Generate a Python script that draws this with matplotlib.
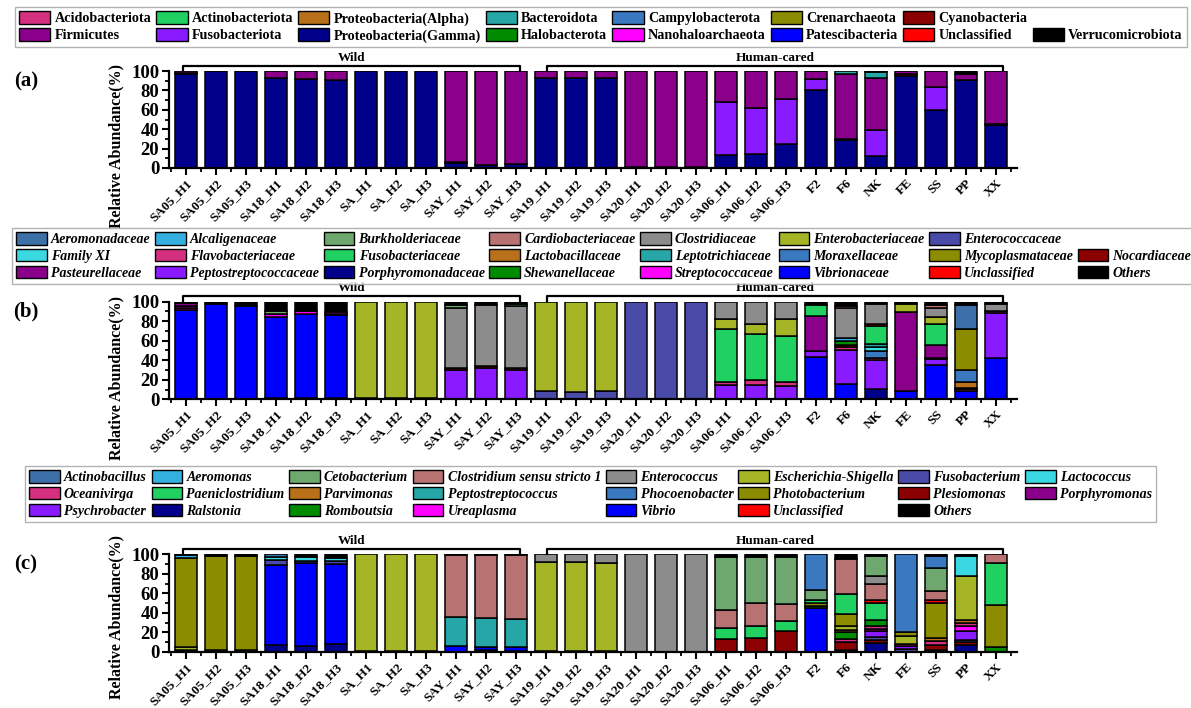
import matplotlib
matplotlib.use("Agg")
import matplotlib.pyplot as plt
from matplotlib.patches import Patch
import numpy as np

plt.rcParams['font.family'] = ['Liberation Serif', 'DejaVu Serif']
plt.rcParams['font.weight'] = 'bold'

samples = ["SA05_H1", "SA05_H2", "SA05_H3", "SA18_H1", "SA18_H2", "SA18_H3",
           "SA_H1", "SA_H2", "SA_H3", "SAY_H1", "SAY_H2", "SAY_H3",
           "SA19_H1", "SA19_H2", "SA19_H3", "SA20_H1", "SA20_H2", "SA20_H3",
           "SA06_H1", "SA06_H2", "SA06_H3", "F2", "F6", "NK", "FE", "SS", "PP", "XX"]

# ---------------- shared palette (legend order) ----------------
palette = ["#3d6fa8", "#33b0e0", "#6ea86e", "#b87272", "#8c8c8c", "#a6b526",
           "#4a4aa8", "#3ad8e0", "#d4307f", "#20d060", "#b8701a", "#26a6a6",
           "#3a78c0", "#8c8c00", "#8b0000", "#8b008b", "#8a1aff", "#00008b",
           "#008b00", "#ff00ff", "#0000ff", "#ff0000", "#000000"]

# ---------------- panel (a) phylum ----------------
a_names = ["Acidobacteriota", "Actinobacteriota", "Proteobacteria(Alpha)", "Bacteroidota",
           "Campylobacterota", "Crenarchaeota", "Cyanobacteria", "Firmicutes",
           "Fusobacteriota", "Proteobacteria(Gamma)", "Halobacterota", "Nanohaloarchaeota",
           "Patescibacteria", "Unclassified", "Verrucomicrobiota"]
a_acidobacteriota = [0,0,0,0,0,0,0,0,0,0,0,0, 0,0,0,0,0,0,0,0,0,0,0,0,0,0,0,0.5]
a_actinobacteriota = [0,0,0,0,0,0,0,0,0,0,0,0, 0,0,0,0,0,0,0,0,0,0,0,1.5,0,0,0,0]
a_bacteroidota = [0,0,0,0,0,0,0,0,0,0,0,0, 0,0,0,0,0,0,0,0,0,0.5,3,5.5,0,0,0,0]
a_cyanobacteria = [1,0,0,0,0,0,0,0,0,1,0.5,0.5, 0,0,0,0,0,0,0,0,0,0,1.5,0,1.5,0,0.5,0]
a_firmicutes = [2,0.5,0.5,7.5,8,9.5,0,0,0,94,96.5,95.5, 7,7,7.5,99,99,99,32,38.5,29,8,67,54,3.5,16,6,55]
a_fusobacteriota = [0,0,0,0,0,0,0,0,0,0,0,0, 0,0,0,0,0,0,55,47.5,46,11.5,0,27,0,24,0,0]
a_gamma = [97,99.5,99.5,92.5,92,90.5,100,100,100,5,3,4, 93,93,92.5,1,1,1,13,14,25,80,28.5,12,95,60,90.5,44.5]
a_verrucomicrobiota = [0,0,0,0,0,0,0,0,0,0,0,0, 0,0,0,0,0,0,0,0,0,0,0,0,0,0,3,0]

# ---------------- panel (b) family ----------------
b_names = ["Aeromonadaceae", "Alcaligenaceae", "Burkholderiaceae", "Cardiobacteriaceae",
           "Clostridiaceae", "Enterobacteriaceae", "Enterococcaceae", "Family XI",
           "Flavobacteriaceae", "Fusobacteriaceae", "Lactobacillaceae", "Leptotrichiaceae",
           "Moraxellaceae", "Mycoplasmataceae", "Nocardiaceae", "Pasteurellaceae",
           "Peptostreptococcaceae", "Porphyromonadaceae", "Shewanellaceae",
           "Streptococcaceae", "Vibrionaceae", "Unclassified", "Others"]
b_aeromonadaceae = [0,0,0,0,0,0,0,0,0,0,0,0, 0,0,0,0,0,0,0,0,0,0,0,0,0,0,25,0]
b_alcaligenaceae = [0,0,0,0,0,0,0,0,0,0,0,0, 0,0,0,0,0,0,0,0,0,0,3,0,0,0,0,0]
b_burkholderiaceae = [0,0,0,3,0,0,0,0,0,3,0,2, 0,0,0,0,0,0,0,0,0,0,0,0,0,0,0,0]
b_cardiobacteriaceae = [0,0,0,0,0,0,0,0,0,0,0,0, 0,0,0,0,0,0,0,0,0,0,2.5,0,0,3,0,0]
b_clostridiaceae = [0,0,0,0,0,0,0,0,0,61.5,62.5,63, 0,0,0,0,0,0,18,23,17.5,0,31,20.5,0,10,0,7]
b_enterobacteriaceae = [0,0,0,0,0,0,99,99,99,0,0,0, 92,92.5,91.5,0,0,0,9.5,10,18,0,0,0,9,6.5,0,0]
b_enterococcaceae = [0,0,0,0,0,0,0,0,0,0,0,0, 8,7.5,8.5,100,100,100,0,0,0,0,0,0,0,0,0,0]
b_family_xi = [0,0,0,0,0,0,0,0,0,0,0,0, 0,0,0,0,0,0,0,0,0,0,0,5,0,0,0,0]
b_flavobacteriaceae = [2,0,0,0,0,0,0,0,0,0,0,0, 0,0,0,0,0,0,3,5,4,0,3,2,0,0,1.5,0]
b_fusobacteriaceae = [0,0,0,0,0,0,0,0,0,0,0,0, 0,0,0,0,0,0,55,47,47,12,0,18.5,0,22,0,0]
b_lactobacillaceae = [0,0,0,0,0,0,0,0,0,0,0,0, 0,0,0,0,0,0,0,0,0,0,0,0,0,0,6,0]
b_leptotrichiaceae = [0,0,0,0,0,0,0,0,0,0,0,0, 0,0,0,0,0,0,0,0,0,0,0,3,0,0,0,0]
b_moraxellaceae = [0,0,0,0,0,0,0,0,0,0,0,0, 0,0,0,0,0,0,0,0,0,0,0,7,0,0,12,0]
b_mycoplasmataceae = [0,0,0,0,0,0,0,0,0,0,0,0, 0,0,0,0,0,0,0,0,0,0,0,0,0,0,42,0]
b_nocardiaceae = [0,0,0,0,0,1,0,0,0,2,2.5,2, 0,0,0,0,0,0,0,0,0,0,2,0,0,0,1.5,0]
b_pasteurellaceae = [3,0,0,0,0,0,0,0,0,0,0,0, 0,0,0,0,0,0,0,0,0,36,0,0,80,13,0,2]
b_peptostreptococcaceae = [0,0,0,0,0,0,0,0,0,30.5,32,30.5, 0,0,0,0,0,0,14.5,15,13.5,5.5,34.5,29.5,0,6,0,46]
b_porphyromonadaceae = [0,0,0,1.5,1.5,1.5,1,1,1,0,0,0, 0,0,0,0,0,0,0,0,0,0,0,10.5,0,0,0,0]
b_shewanellaceae = [0,0,0,0,0,0,0,0,0,0,0,0, 0,0,0,0,0,0,0,0,0,0,4,0,0,0,0,0]
b_streptococcaceae = [2,0,0,2.5,2.5,2.5,0,0,0,0,0,0, 0,0,0,0,0,0,0,0,0,0,0,0,0,1.5,0,0]
b_vibrionaceae = [92,97.5,96,83,86,84.5,0,0,0,0,0,0, 0,0,0,0,0,0,0,0,0,43.5,16,0,9,35,9,42.5]
b_unclassified = [0,0,0,0,0,0,0,0,0,0,0,0, 0,0,0,0,0,0,0,0,0,0,0,2,0,0,0,0]
b_others = [1,2.5,4,10,10,10.5,0,0,0,3,3,2.5, 0,0,0,0,0,0,0,0,0,3,4,2,2,3,3,2.5]

# ---------------- panel (c) genus ----------------
c_names = ["Actinobacillus", "Aeromonas", "Cetobacterium", "Clostridium sensu stricto 1",
           "Enterococcus", "Escherichia-Shigella", "Fusobacterium", "Lactococcus",
           "Oceanivirga", "Paeniclostridium", "Parvimonas", "Peptostreptococcus",
           "Phocoenobacter", "Photobacterium", "Plesiomonas", "Porphyromonas",
           "Psychrobacter", "Ralstonia", "Romboutsia", "Ureaplasma", "Vibrio",
           "Unclassified", "Others"]
c_actinobacillus = [0,0,0,2.5,0,0,0,0,0,0,0,0, 0,0,0,0,0,0,0,0,0,0,0,0,0,0,0,0]
c_aeromonas = [3.5,0,0,0,0,0,0,0,0,0,0,0, 0,0,0,0,0,0,0,0,0,0,0,0,0,0,0,0]
c_cetobacterium = [0,0,0,0,0,0,0,0,0,0,0,0, 0,0,0,0,0,0,54,47,48,10,0,20,0,24,0,0]
c_clostridium = [0,0,0,0,0,0,0,0,0,63,64,65, 0,0,0,0,0,0,18,23,17,0,36,17,0,9,0,9]
c_enterococcus = [0,0,0,0,0,0,0,0,0,0,0,0, 8,8,8.5,100,100,100,0,0,0,0,0,8,0,0,0,0]
c_escherichia = [3,2,2,0,0,0,98.5,99,99,0,0,0, 91,91,90.5,0,0,0,0,0,0,0,4,0,8,0,45,0]
c_fusobacterium = [0,0,0,4.5,2,3,0,0,0,0,0,0, 0,0,0,0,0,0,0,0,0,0,0,3,3,0,2,0]
c_lactococcus = [0,0,0,3.5,3.5,3.5,0,0,0,0,0,0, 0,0,0,0,0,0,0,0,0,0,0,0,0,0,20,0]
c_oceanivirga = [0,0,0,0,0,0,0,0,0,0,0,0, 0,0,0,0,0,0,0,0,0,0,3,3,2,4,3,0]
c_paeniclostridium = [0,0,0,0,0,0,0,0,0,0,0,0, 0,0,0,0,0,0,12,13,11,3,20,17,0,0,0,43]
c_parvimonas = [0,0,0,0,0,0,0,0,0,0,0,0, 0,0,0,0,0,0,0,0,0,0,3,0,0,3,3,0]
c_peptostreptococcus = [0,0,0,0,0,0,0,0,0,29.5,30,29, 0,0,0,0,0,0,0,0,0,0,0,0,0,0,0,0]
c_phocoenobacter = [0,0,0,0,0,0,0,0,0,0,0,0, 0,0,0,0,0,0,0,0,0,37,0,0,80,12,0,0]
c_photobacterium = [91,96.5,96,0,0,0,0,0,0,0,0,0, 0,0,0,0,0,0,0,0,0,3,12,0,4,36,0,43]
c_plesiomonas = [0,0,0,0,0,0,0,0,0,0,0,0, 0,0,0,0,0,0,13,14,21,0,8,3,0,5,3,0]
c_porphyromonas = [0,0,0,0,0,0,0,0,0,0,0,0, 0,0,0,0,0,0,0,0,0,0,0,0,0,0,0,0]
c_psychrobacter = [0,0,0,0,0,0,0,0,0,0,0,0, 0,0,0,0,0,0,0,0,0,0,0,6,3,0,10,0]
c_ralstonia = [0,0,0,7,6.5,8,1.5,1,1,0,2,1.5, 1,1,1,0,0,0,0,0,0,0,2,9,0,2,7,0]
c_romboutsia = [2,0,0,0,0,0,0,0,0,0,0,0, 0,0,0,0,0,0,0,0,0,2,7,6,0,0,0,5]
c_ureaplasma = [0,0,0,0,0,0,0,0,0,0,0,0, 0,0,0,0,0,0,0,0,0,0,0,3,0,0,5,0]
c_vibrio = [0,0,0,82.5,85,82,0,0,0,6.5,3,3.5, 0,0,0,0,0,0,0,0,0,45,0,0,0,0,0,0]
c_unclassified = [0,0,0,0,0,0,0,0,0,0,0,0, 0,0,0,0,0,0,0,0,0,0,0,3,0,3,0,0]
c_others = [0.5,1.5,2,0,3,3.5,0,0,0,1,1,1, 0,0,0,0,0,0,3,3,3,0,5,2,0,2,2,0]

a_colors = dict(zip(a_names, palette[8:]))
b_colors = dict(zip(b_names, palette))
c_colors = dict(zip(c_names, palette))

a_stack = [("Proteobacteria(Gamma)", a_gamma), ("Cyanobacteria", a_cyanobacteria),
           ("Acidobacteriota", a_acidobacteriota), ("Fusobacteriota", a_fusobacteriota),
           ("Firmicutes", a_firmicutes), ("Bacteroidota", a_bacteroidota),
           ("Actinobacteriota", a_actinobacteriota), ("Verrucomicrobiota", a_verrucomicrobiota)]
b_stack = [("Porphyromonadaceae", b_porphyromonadaceae), ("Vibrionaceae", b_vibrionaceae),
           ("Enterococcaceae", b_enterococcaceae), ("Peptostreptococcaceae", b_peptostreptococcaceae),
           ("Flavobacteriaceae", b_flavobacteriaceae), ("Nocardiaceae", b_nocardiaceae),
           ("Lactobacillaceae", b_lactobacillaceae), ("Moraxellaceae", b_moraxellaceae),
           ("Streptococcaceae", b_streptococcaceae), ("Pasteurellaceae", b_pasteurellaceae),
           ("Shewanellaceae", b_shewanellaceae), ("Mycoplasmataceae", b_mycoplasmataceae),
           ("Alcaligenaceae", b_alcaligenaceae), ("Family XI", b_family_xi),
           ("Leptotrichiaceae", b_leptotrichiaceae), ("Fusobacteriaceae", b_fusobacteriaceae),
           ("Unclassified", b_unclassified), ("Enterobacteriaceae", b_enterobacteriaceae),
           ("Clostridiaceae", b_clostridiaceae), ("Burkholderiaceae", b_burkholderiaceae),
           ("Cardiobacteriaceae", b_cardiobacteriaceae), ("Aeromonadaceae", b_aeromonadaceae),
           ("Others", b_others)]
c_stack = [("Ralstonia", c_ralstonia), ("Vibrio", c_vibrio), ("Plesiomonas", c_plesiomonas),
           ("Fusobacterium", c_fusobacterium), ("Psychrobacter", c_psychrobacter),
           ("Ureaplasma", c_ureaplasma), ("Oceanivirga", c_oceanivirga),
           ("Romboutsia", c_romboutsia), ("Parvimonas", c_parvimonas),
           ("Escherichia-Shigella", c_escherichia), ("Photobacterium", c_photobacterium),
           ("Paeniclostridium", c_paeniclostridium), ("Peptostreptococcus", c_peptostreptococcus),
           ("Porphyromonas", c_porphyromonas), ("Unclassified", c_unclassified),
           ("Clostridium sensu stricto 1", c_clostridium), ("Enterococcus", c_enterococcus),
           ("Cetobacterium", c_cetobacterium), ("Lactococcus", c_lactococcus),
           ("Aeromonas", c_aeromonas), ("Phocoenobacter", c_phocoenobacter),
           ("Actinobacillus", c_actinobacillus), ("Others", c_others)]

W, H = 1191, 708
fig = plt.figure(figsize=(W / 100, H / 100), dpi=100)


def fx(px):
    return px / W


def fy(py):
    return 1 - py / H


def blank():
    return Patch(facecolor='none', edgecolor='none', label=' ')


def draw_panel(y0, y100, stack, colors, label, ylab_center):
    ax = fig.add_axes([fx(169), fy(y0), fx(1017) - fx(169), (y0 - y100) / H])
    x = np.arange(len(samples))
    bottom = np.zeros(len(samples))
    for name, vals in stack:
        v = np.array(vals, dtype=float)
        m = v > 0
        if m.any():
            ax.bar(x[m], v[m], bottom=bottom[m], width=0.73, color=colors[name],
                   edgecolor='black', linewidth=1.1, zorder=2)
        bottom += v
    ax.set_xlim(-0.567, 27.7)
    ax.set_ylim(0, 100)
    for s in ['top', 'right']:
        ax.spines[s].set_visible(False)
    for s in ['left', 'bottom']:
        ax.spines[s].set_linewidth(1.6)
    ax.set_yticks(np.arange(0, 101, 20))
    ax.set_yticks(np.arange(10, 100, 20), minor=True)
    ax.set_xticks(x)
    ax.set_xticks(np.arange(-0.5, 28, 1), minor=True)
    ax.set_xticklabels(samples, rotation=45, ha='right', rotation_mode='anchor',
                       fontsize=9.5, fontweight='bold')
    for t in ax.get_yticklabels():
        t.set_fontsize(13.5)
        t.set_fontweight('bold')
    ax.tick_params(axis='both', which='major', direction='out', length=5, width=1.5, pad=2)
    ax.tick_params(axis='x', which='major', pad=1.5)
    ax.tick_params(axis='both', which='minor', direction='out', length=3, width=1.3)
    # group brackets
    ytop, ytick = 105.5, 100.8
    for (l, r, txt) in [(-0.1, 11.13, "Wild"), (12.03, 27.23, "Human-cared")]:
        ax.plot([l, l, r, r], [ytick, ytop, ytop, ytick], color='black', lw=1.6,
                clip_on=False, zorder=3)
        ax.text((l + r) / 2, ytop + 2.0, txt, ha='center', va='bottom', fontsize=9.5,
                fontweight='bold')
    fig.text(fx(26), fy(y100 + 10), label, ha='center', va='center', fontsize=15,
             fontweight='bold')
    fig.text(fx(116), fy(ylab_center), "Relative Abundance(%)", rotation=90,
             ha='center', va='center', fontsize=11.5, fontweight='bold')
    return ax


draw_panel(168, 71, a_stack, a_colors, "(a)", 146)
draw_panel(399.3, 301.7, b_stack, b_colors, "(b)", 378)
draw_panel(652, 554.3, c_stack, c_colors, "(c)", 617)


def make_handles(names, colors, layout):
    hs = []
    for n in layout:
        if n is None:
            hs.append(blank())
        else:
            hs.append(Patch(facecolor=colors[n], edgecolor='black', linewidth=1.0, label=n))
    return hs


def column_major(rows, ncol):
    out = []
    for c in range(ncol):
        for r in rows:
            out.append(r[c] if c < len(r) else None)
    return out


a_rows = [a_names[0:7] + [None], a_names[7:15]]
b_rows = [b_names[0:7] + [None], b_names[7:15], b_names[15:23]]
c_rows = [c_names[0:8], c_names[8:16], c_names[16:23] + [None]]

legend_kw = dict(frameon=True, fancybox=False, edgecolor='#a0a0a0', handlelength=2.2,
                 handleheight=1.0, handletextpad=0.3, columnspacing=0.35,
                 labelspacing=0.2, borderpad=0.3, borderaxespad=0)

leg_a = fig.legend(handles=make_handles(a_names, a_colors, column_major(a_rows, 8)),
                   ncol=8, loc='upper left', bbox_to_anchor=(fx(15), fy(7)),
                   prop=dict(family=['Liberation Serif'], weight='bold', size=10.2), **legend_kw)
leg_b = fig.legend(handles=make_handles(b_names, b_colors, column_major(b_rows, 8)),
                   ncol=8, loc='upper left', bbox_to_anchor=(fx(12), fy(228)),
                   prop=dict(family=['Liberation Serif'], weight='bold', style='italic', size=10.0),
                   **legend_kw)
leg_c = fig.legend(handles=make_handles(c_names, c_colors, column_major(c_rows, 8)),
                   ncol=8, loc='upper left', bbox_to_anchor=(fx(25), fy(466)),
                   prop=dict(family=['Liberation Serif'], weight='bold', style='italic', size=10.0),
                   **legend_kw)
for leg in (leg_a, leg_b, leg_c):
    leg.get_frame().set_linewidth(1.0)

fig.savefig("out.png", dpi=100)
